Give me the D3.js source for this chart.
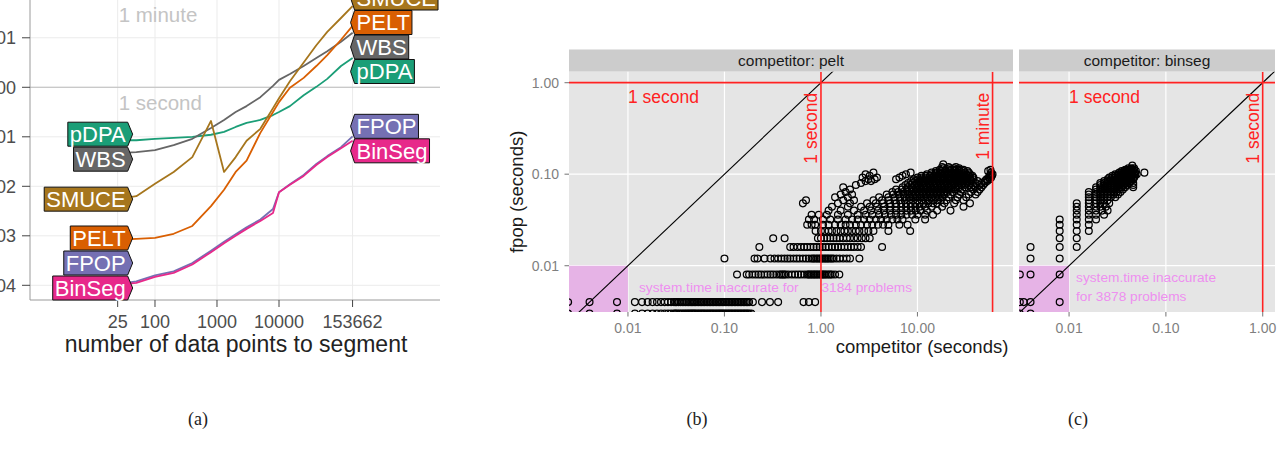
<!DOCTYPE html>
<html><head><meta charset="utf-8">
<script src="https://cdn.jsdelivr.net/npm/d3@7"></script>
<style>
body{margin:0;background:#fff}
svg{display:block}
text{font-family:"Liberation Sans",Arial,Helvetica,sans-serif}
</style>
</head><body>
<script>
// ---------------- DATA: panel (a) ----------------
const sizes = [25, 50, 100, 200, 400, 800, 1300, 2000, 3000, 5000, 8000, 10000, 15000, 25000, 40000, 60000, 100000, 153662];
const algoNames = ["pDPA", "WBS", "SMUCE", "PELT", "FPOP", "BinSeg"];
const algoColors = ["#1b9e77", "#666666", "#a6761d", "#d95f02", "#7570b3", "#e7298a"];
const secPDPA = [0.0851, 0.0851, 0.0912, 0.0955, 0.100, 0.110, 0.126, 0.158, 0.191, 0.219, 0.275, 0.316, 0.417, 0.692, 1.02, 1.48, 2.69, 3.89];
const secWBS = [0.0468, 0.0490, 0.0537, 0.0676, 0.0912, 0.151, 0.219, 0.316, 0.417, 0.631, 1.07, 1.41, 1.86, 2.69, 3.89, 5.37, 8.32, 12.6];
const secSMUCE = [0.0055, 0.00631, 0.0112, 0.0195, 0.0389, 0.209, 0.0195, 0.0389, 0.0832, 0.145, 0.380, 0.603, 1.32, 3.16, 7.08, 13.2, 25.1, 43.7];
const secPELT = [0.000832, 0.000871, 0.000912, 0.00110, 0.00158, 0.00398, 0.00851, 0.0195, 0.0331, 0.120, 0.316, 0.501, 0.977, 1.55, 2.69, 4.47, 9.12, 17.4];
const secFPOP = [0.000105, 0.000120, 0.000158, 0.000191, 0.000282, 0.000501, 0.000759, 0.00107, 0.00148, 0.00214, 0.00347, 0.00759, 0.0110, 0.0170, 0.0282, 0.0407, 0.0617, 0.102];
const secBinSeg = [0.000102, 0.000112, 0.000148, 0.000178, 0.000263, 0.000468, 0.000708, 0.00100, 0.00138, 0.00200, 0.00288, 0.00759, 0.0107, 0.0162, 0.0269, 0.0389, 0.0589, 0.0832];
const yTicksA = [1e-4, 1e-3, 1e-2, 1e-1, 1, 10];
const yTickLabelsA = ["1e-04", "1e-03", "1e-02", "1e-01", "1e+00", "1e+01"];
const xTicksA = [25, 100, 1000, 10000, 153662];
const refSecA = [1, 60];
const refLabelsA = ["1 second", "1 minute"];

// ---------------- DATA: panel (b) fpop vs pelt ----------------
const peltFpop = [0.003, 0.004, 0.008, 0.012, 0.016, 0.020, 0.024, 0.028, 0.032, 0.036, 0.040, 0.044, 0.048, 0.052, 0.056, 0.060, 0.064, 0.068, 0.072, 0.076, 0.080, 0.084, 0.088, 0.092, 0.096, 0.100, 0.104, 0.108, 0.112, 0.116, 0.120, 0.128];
const peltTime = [
 [0.0024, 0.004, 0.0077, 0.0118, 0.014, 0.016, 0.018, 0.02, 0.022, 0.024, 0.026, 0.028, 0.03, 0.031, 0.032, 0.0335, 0.035, 0.0365, 0.038, 0.0395, 0.041, 0.0425, 0.044, 0.0455, 0.047, 0.0485, 0.05, 0.052, 0.054, 0.056, 0.058, 0.06, 0.062, 0.0645, 0.067, 0.0695, 0.072, 0.0745, 0.077, 0.08, 0.083, 0.086, 0.089, 0.092, 0.095, 0.0985, 0.102, 0.106, 0.11, 0.114, 0.118, 0.122, 0.127, 0.131, 0.136, 0.141, 0.146, 0.151, 0.157, 0.162, 0.168, 0.174, 0.18, 0.19],
 [0.0024, 0.004, 0.0077, 0.0118, 0.014, 0.016, 0.018, 0.02, 0.022, 0.024, 0.026, 0.028, 0.03, 0.031, 0.032, 0.0335, 0.035, 0.0365, 0.038, 0.0395, 0.041, 0.0425, 0.044, 0.0455, 0.047, 0.0485, 0.05, 0.052, 0.054, 0.056, 0.058, 0.06, 0.062, 0.0645, 0.067, 0.0695, 0.072, 0.0745, 0.077, 0.08, 0.083, 0.086, 0.089, 0.092, 0.095, 0.0985, 0.102, 0.106, 0.11, 0.114, 0.118, 0.122, 0.127, 0.131, 0.136, 0.141, 0.146, 0.151, 0.157, 0.162, 0.168, 0.174, 0.18, 0.197, 0.245, 0.296, 0.36, 0.66, 0.75, 0.87],
 [0.135, 0.17, 0.18, 0.195, 0.21, 0.225, 0.24, 0.26, 0.28, 0.30, 0.32, 0.345, 0.37, 0.385, 0.40, 0.415, 0.43, 0.46, 0.50, 0.54, 0.58, 0.62, 0.67, 0.72, 0.745, 0.77, 0.8, 0.83, 0.86, 0.89, 0.925, 0.96, 1.0, 1.03, 1.07, 1.1, 1.15, 1.2, 1.25, 1.3, 1.4, 1.55],
 [0.1, 0.205, 0.22, 0.26, 0.3, 0.33, 0.36, 0.39, 0.42, 0.45, 0.48, 0.52, 0.56, 0.6, 0.65, 0.7, 0.75, 0.8, 0.83, 0.86, 0.9, 0.93, 0.97, 1.0, 1.04, 1.08, 1.12, 1.16, 1.2, 1.25, 1.3, 1.35, 1.45, 1.56, 1.7, 1.85, 2.0, 2.5],
 [0.23, 0.48, 0.52, 0.57, 0.62, 0.67, 0.72, 0.78, 0.84, 0.9, 0.97, 1.04, 1.12, 1.2, 1.3, 1.4, 1.5, 1.62, 1.75, 1.9, 2.05, 2.2, 2.4, 2.6, 4.3],
 [0.32, 0.42, 0.93, 1.0, 1.08, 1.16, 1.25, 1.35, 1.45, 1.56, 1.7, 1.85, 2.0, 2.2, 2.4, 2.65, 2.9, 3.2],
 [0.88, 1.0, 1.1, 1.2, 1.3, 1.45, 1.6, 1.75, 1.9, 2.1, 2.3, 2.5, 2.8, 3.1, 3.5, 5.0, 8.4],
 [0.72, 0.8, 0.87, 1.05, 1.2, 1.4, 1.6, 1.8, 2.0, 2.3, 2.6, 3.0, 3.4, 3.9, 4.4, 5.0, 6.5, 7.9],
 [0.75, 0.85, 1.05, 1.25, 1.5, 1.8, 2.1, 2.4, 2.8, 3.2, 3.7, 4.2, 4.8, 5.5, 6.2, 7.0, 9.5, 12],
 [0.8, 0.95, 1.15, 1.5, 1.9, 2.4, 2.9, 3.4, 4.0, 4.6, 5.3, 6.0, 6.8, 7.7, 8.8, 10, 12, 14.5],
 [1.2, 1.6, 2.2, 2.8, 3.3, 3.9, 4.5, 5.2, 6.0, 6.8, 7.7, 8.6, 9.6, 10.8, 12.5, 16, 22],
 [1.3, 1.9, 2.6, 3.2, 3.8, 4.5, 5.2, 6.0, 6.8, 7.6, 8.5, 9.5, 10.5, 12, 14, 18, 30],
 [0.65, 1.5, 2.0, 3.0, 3.7, 4.4, 5.2, 6.0, 6.8, 7.6, 8.5, 9.5, 10.5, 11.5, 13, 14.5, 16, 19, 24, 35],
 [0.7, 1.7, 2.2, 3.5, 4.3, 5.0, 5.8, 6.6, 7.4, 8.2, 9.0, 10, 11, 12, 13.2, 14.5, 16, 17.5, 20, 25, 30],
 [1.4, 1.9, 4.0, 5.0, 5.8, 6.6, 7.4, 8.2, 9.0, 9.8, 10.7, 11.7, 12.8, 14, 15.3, 16.7, 18.2, 21, 26, 32],
 [1.6, 2.1, 4.8, 5.6, 6.4, 7.2, 8.0, 8.8, 9.6, 10.5, 11.5, 12.5, 13.6, 14.8, 16, 17.5, 19, 22, 27, 34, 40],
 [1.8, 5.5, 6.3, 7.1, 7.9, 8.7, 9.5, 10.4, 11.3, 12.3, 13.4, 14.6, 15.9, 17.3, 18.8, 20.5, 23, 28, 36, 42],
 [2.0, 6.0, 6.9, 7.8, 8.7, 9.6, 10.5, 11.5, 12.5, 13.6, 14.8, 16.1, 17.5, 19, 20.7, 22.5, 25, 29, 38, 44],
 [1.7, 7.0, 7.9, 8.8, 9.7, 10.6, 11.6, 12.6, 13.7, 14.9, 16.2, 17.6, 19.1, 20.8, 22.6, 24.6, 27, 31, 36, 40, 46],
 [2.3, 7.5, 8.4, 9.3, 10.2, 11.2, 12.2, 13.3, 14.5, 15.8, 17.2, 18.7, 20.3, 22.1, 24, 26, 28.5, 31, 34, 38, 44, 48],
 [2.6, 8.0, 8.9, 9.8, 10.8, 11.8, 12.9, 14.1, 15.4, 16.8, 18.3, 19.9, 21.6, 23.5, 25.5, 27.7, 30, 32.5, 35, 40, 46, 50],
 [2.9, 3.3, 8.6, 9.5, 10.5, 11.5, 12.6, 13.8, 15.1, 16.5, 18, 19.6, 21.3, 23.2, 25.2, 27.4, 29.8, 32.5, 36, 42, 50, 53],
 [3.1, 3.6, 6.0, 9.2, 10.2, 11.2, 12.3, 13.5, 14.8, 16.2, 17.7, 19.3, 21, 22.9, 24.9, 27.1, 29.5, 32, 35, 38, 52, 56],
 [2.7, 3.8, 6.5, 10, 11, 12.1, 13.3, 14.6, 16, 17.5, 19.1, 20.8, 22.7, 24.7, 26.9, 29.3, 32, 35, 38, 55, 58],
 [3.2, 7.0, 11, 12.2, 13.5, 14.9, 16.4, 18, 19.8, 21.7, 23.8, 26, 28.4, 31, 34, 37, 56, 59],
 [2.9, 7.6, 12.5, 14, 15.5, 17, 18.7, 20.5, 22.5, 24.7, 27, 29.5, 32, 35, 57, 60],
 [3.5, 8.5, 14, 15.7, 17.4, 19.2, 21.2, 23.4, 25.8, 28.4, 31, 34, 58],
 [15.5, 17.5, 19.6, 21.9, 24.4, 27.1, 30, 33, 54],
 [17, 19.5, 22, 24.5, 27, 30, 57],
 [18.5, 21.5, 24, 27],
 [18, 21, 25],
 [18.5]
];

// ---------------- DATA: panel (c) fpop vs binseg ----------------
const binsegFpop = [0.003, 0.004, 0.008, 0.012, 0.016, 0.020, 0.024, 0.028, 0.032, 0.036, 0.040, 0.044, 0.048, 0.052, 0.056, 0.060, 0.064, 0.068, 0.072, 0.076, 0.080, 0.084, 0.088, 0.092, 0.096, 0.100, 0.104, 0.108, 0.112, 0.116, 0.124];
const binsegTime = [
 [0.0031, 0.004],
 [0.0031, 0.0034, 0.004, 0.008],
 [0.0031, 0.004, 0.008],
 [0.004, 0.008],
 [0.004, 0.008, 0.012],
 [0.008, 0.012],
 [0.008, 0.012, 0.016],
 [0.008, 0.012, 0.016],
 [0.008, 0.012, 0.016, 0.019],
 [0.012, 0.016, 0.019, 0.023],
 [0.012, 0.016, 0.019, 0.022, 0.025],
 [0.012, 0.016, 0.019, 0.021, 0.024],
 [0.012, 0.016, 0.019, 0.021, 0.023, 0.026],
 [0.016, 0.019, 0.021, 0.023, 0.025],
 [0.016, 0.019, 0.021, 0.023, 0.025, 0.027, 0.030],
 [0.016, 0.019, 0.021, 0.023, 0.025, 0.027, 0.029, 0.032],
 [0.016, 0.019, 0.021, 0.023, 0.025, 0.027, 0.029, 0.031, 0.034],
 [0.019, 0.021, 0.023, 0.025, 0.027, 0.029, 0.031, 0.033, 0.036],
 [0.019, 0.021, 0.023, 0.025, 0.027, 0.029, 0.031, 0.033, 0.035, 0.038, 0.046],
 [0.021, 0.023, 0.025, 0.027, 0.029, 0.031, 0.033, 0.035, 0.037, 0.040, 0.046],
 [0.021, 0.023, 0.025, 0.027, 0.029, 0.031, 0.033, 0.035, 0.037, 0.039, 0.042, 0.046],
 [0.023, 0.025, 0.027, 0.029, 0.031, 0.033, 0.035, 0.037, 0.039, 0.041, 0.044],
 [0.025, 0.027, 0.029, 0.031, 0.033, 0.035, 0.037, 0.039, 0.041, 0.043, 0.046],
 [0.026, 0.028, 0.030, 0.032, 0.034, 0.036, 0.038, 0.040, 0.042, 0.044, 0.047],
 [0.028, 0.030, 0.032, 0.034, 0.036, 0.038, 0.040, 0.042, 0.045, 0.048],
 [0.030, 0.032, 0.034, 0.036, 0.038, 0.040, 0.042, 0.044, 0.047, 0.050],
 [0.033, 0.035, 0.037, 0.039, 0.041, 0.043, 0.045, 0.048, 0.060],
 [0.035, 0.037, 0.039, 0.041, 0.043, 0.046, 0.049],
 [0.038, 0.040, 0.042, 0.044, 0.047],
 [0.041, 0.044, 0.047],
 [0.045]
];
const yTicksBC = [0.01, 0.1, 1];
const yTickLabelsBC = ["0.01", "0.10", "1.00"];
const xTicksB = [0.01, 0.1, 1, 10];
const xTickLabelsB = ["0.01", "0.10", "1.00", "10.00"];
const xTicksC = [0.01, 0.1, 1];
const xTickLabelsC = ["0.01", "0.10", "1.00"];
const captions = ["(a)", "(b)", "(c)"];

// ---------------- DRAWING ----------------
const svg = d3.select("body").append("svg").attr("width", 1278).attr("height", 454);
const defs = svg.append("defs");
function clipRect(id, x, y, w, h) {
  defs.append("clipPath").attr("id", id).append("rect")
    .attr("x", x).attr("y", y).attr("width", w).attr("height", h);
}

// ===== Panel (a) =====
const aL = 30, aR = 440, aT = 0, aB = 300;
const xA = d3.scaleLog().domain([0.964, 3.95e6]).range([aL, aR]);
const yA = d3.scaleLog().domain([5.05e-5, 58]).range([aB, aT]);
clipRect("clipA", aL, aT, aR - aL, aB - aT);
const gA = svg.append("g");

gA.selectAll("line.gy").data(yTicksA).join("line").attr("class", "gy")
  .attr("x1", aL).attr("x2", aR).attr("y1", d => yA(d)).attr("y2", d => yA(d))
  .attr("stroke", "#ebebeb").attr("stroke-width", 1);
gA.selectAll("line.gx").data(xTicksA).join("line").attr("class", "gx")
  .attr("x1", d => xA(d)).attr("x2", d => xA(d)).attr("y1", aT).attr("y2", aB)
  .attr("stroke", "#ebebeb").attr("stroke-width", 1);

gA.selectAll("line.ref").data(refSecA).join("line").attr("class", "ref")
  .attr("x1", aL).attr("x2", aR).attr("y1", d => yA(d)).attr("y2", d => yA(d))
  .attr("stroke", "#bdbdbd").attr("stroke-width", 1.1).attr("clip-path", "url(#clipA)");
gA.selectAll("text.ref").data(refSecA).join("text").attr("class", "ref")
  .attr("x", xA(sizes[0]) + 1).attr("y", d => yA(d) + 22.5)
  .attr("fill", "#c4c4c4").style("font-size", "20.5px")
  .text((d, i) => refLabelsA[i]);

const seriesA = [secPDPA, secWBS, secSMUCE, secPELT, secFPOP, secBinSeg].map((v, i) => ({
  name: algoNames[i], color: algoColors[i], values: v
}));
const lineA = d3.line().x((d, i) => xA(sizes[i])).y(d => yA(d));
gA.selectAll("path.series").data(seriesA).join("path").attr("class", "series")
  .attr("d", d => lineA(d.values)).attr("fill", "none")
  .attr("stroke", d => d.color).attr("stroke-width", 1.8).attr("stroke-linejoin", "round")
  .attr("clip-path", "url(#clipA)");

gA.append("line").attr("x1", aL).attr("x2", aL).attr("y1", aT).attr("y2", aB).attr("stroke", "#9a9a9a");
gA.append("line").attr("x1", aL).attr("x2", aR).attr("y1", aB).attr("y2", aB).attr("stroke", "#9a9a9a");
gA.selectAll("line.ty").data(yTicksA).join("line").attr("class", "ty")
  .attr("x1", aL - 8).attr("x2", aL).attr("y1", d => yA(d)).attr("y2", d => yA(d))
  .attr("stroke", "#444").attr("stroke-width", 1);
gA.selectAll("text.ty").data(yTicksA).join("text").attr("class", "ty")
  .attr("x", aL - 14).attr("y", d => yA(d) + 6.5).attr("text-anchor", "end")
  .style("font-size", "18px").attr("fill", "#4d4d4d").text((d, i) => yTickLabelsA[i]);
gA.selectAll("line.tx").data(xTicksA).join("line").attr("class", "tx")
  .attr("x1", d => xA(d)).attr("x2", d => xA(d)).attr("y1", aB).attr("y2", aB + 7)
  .attr("stroke", "#444");
gA.selectAll("text.tx").data(xTicksA).join("text").attr("class", "tx")
  .attr("x", d => xA(d)).attr("y", aB + 28).attr("text-anchor", "middle")
  .style("font-size", "18px").attr("fill", "#4d4d4d").text(d => String(d));
gA.append("text").attr("x", 236).attr("y", 352).attr("text-anchor", "middle")
  .style("font-size", "23px").attr("fill", "#222").text("number of data points to segment");

function spread(items, h, lo, hi) {
  items.sort((a, b) => a.y - b.y);
  for (let it = 0; it < 300; it++) {
    for (let i = 0; i < items.length - 1; i++) {
      const d = items[i + 1].y - items[i].y;
      if (d < h) { const s = (h - d) / 2; items[i].y -= s; items[i + 1].y += s; }
    }
    items.forEach(c => { c.y = Math.max(lo, Math.min(hi, c.y)); });
  }
  return items;
}
const boxH = 24;
const labG = svg.append("g").style("font-size", "22px");
function measure(t) {
  const n = labG.append("text").text(t); const w = n.node().getComputedTextLength(); n.remove(); return w;
}
const leftItems = spread(seriesA.map(s => ({ s, y: yA(s.values[0]) })), 25, boxH / 2, aB - boxH / 2);
const rightItems = spread(seriesA.map(s => ({ s, y: yA(s.values[s.values.length - 1]) })), 24.5, -2, aB - boxH / 2);
function drawLabel(it, side) {
  const w = measure(it.s.name) + 4;
  const cy = it.y, y0 = cy - boxH / 2, y1 = cy + boxH / 2;
  let pts, cx;
  if (side === "left") {
    const tip = xA(sizes[0]) + 15, xr = tip - 5, xl = xr - w;
    pts = [[xl, y0], [xr, y0], [tip, cy], [xr, y1], [xl, y1]]; cx = (xl + xr) / 2;
  } else {
    const tip = xA(sizes[sizes.length - 1]) - 2, xl = tip + 4, xr = xl + w;
    pts = [[tip, cy], [xl, y0], [xr, y0], [xr, y1], [xl, y1]]; cx = (xl + xr) / 2;
  }
  labG.append("path").attr("d", "M" + pts.map(p => p.join(",")).join("L") + "Z")
    .attr("fill", it.s.color).attr("stroke", "#111").attr("stroke-width", 1);
  labG.append("text").attr("x", cx).attr("y", cy).attr("dy", "0.36em")
    .attr("text-anchor", "middle").attr("fill", "#fff").text(it.s.name);
}
leftItems.forEach(it => drawLabel(it, "left"));
rightItems.forEach(it => drawLabel(it, "right"));

// ===== Panels (b) and (c) =====
const pT = 71.7, pB = 312, stripT = 49.5;
const yBC = d3.scaleLog().domain([0.00312, 1.318]).range([pB, pT]);
const xB = d3.scaleLog().domain([0.00245, 97.7]).range([569, 1013]);
const xC = d3.scaleLog().domain([0.00304, 1.34]).range([1019, 1275]);
const RED = "#f22";
const PINKBG = "#e6b3e6", PINKTXT = "#ee8ff0";

const panels = [
  { id: "clipB", x: xB, x0: 569, x1: 1013, strip: "competitor: pelt", fy: peltFpop, ct: peltTime,
    xt: xTicksB, xl: xTickLabelsB, vl: [1, 60], vlt: ["1 second", "1 minute"],
    note: ["system.time inaccurate for      3184 problems"], noteDx: 11, noteY: [26], yAxis: true },
  { id: "clipC", x: xC, x0: 1019, x1: 1275, strip: "competitor: binseg", fy: binsegFpop, ct: binsegTime,
    xt: xTicksC, xl: xTickLabelsC, vl: [1], vlt: ["1 second"],
    note: ["system.time inaccurate", "for 3878 problems"], noteDx: 7, noteY: [16, 35.5], yAxis: false }
];

panels.forEach(p => {
  const g = svg.append("g");
  const w = p.x1 - p.x0;
  clipRect(p.id, p.x0, pT, w, pB - pT);
  const clip = "url(#" + p.id + ")";
  g.append("rect").attr("x", p.x0).attr("y", stripT).attr("width", w).attr("height", pT - stripT).attr("fill", "#cccccc");
  g.append("text").attr("x", (p.x0 + p.x1) / 2).attr("y", pT - 6).attr("text-anchor", "middle")
    .style("font-size", "15.5px").attr("fill", "#1a1a1a").text(p.strip);
  g.append("rect").attr("x", p.x0).attr("y", pT).attr("width", w).attr("height", pB - pT).attr("fill", "#e5e5e5");
  g.selectAll("line.gx").data(p.xt).join("line").attr("class", "gx")
    .attr("x1", d => p.x(d)).attr("x2", d => p.x(d)).attr("y1", pT).attr("y2", pB)
    .attr("stroke", "#fff").attr("stroke-width", 1.2);
  g.selectAll("line.gy").data(yTicksBC).join("line").attr("class", "gy")
    .attr("x1", p.x0).attr("x2", p.x1).attr("y1", d => yBC(d)).attr("y2", d => yBC(d))
    .attr("stroke", "#fff").attr("stroke-width", 1.2);
  const dom = p.x.domain();
  g.append("rect").attr("x", p.x0).attr("y", yBC(0.01))
    .attr("width", p.x(0.01) - p.x0).attr("height", pB - yBC(0.01)).attr("fill", PINKBG);
  const pts = p.fy.flatMap((fy, i) => p.ct[i].map(c => [c, fy]));
  g.append("g").attr("clip-path", clip).selectAll("circle").data(pts).join("circle")
    .attr("cx", d => p.x(d[0])).attr("cy", d => yBC(d[1])).attr("r", 3.4)
    .attr("fill", "none").attr("stroke", "#000").attr("stroke-width", 1.25);
  g.selectAll("text.note").data(p.note).join("text").attr("class", "note")
    .attr("x", p.x(0.01) + p.noteDx).attr("y", (d, i) => yBC(0.01) + p.noteY[i])
    .style("font-size", "13.7px").style("white-space", "pre").attr("fill", PINKTXT).text(d => d);
  g.append("line").attr("clip-path", clip)
    .attr("x1", p.x(dom[0])).attr("y1", yBC(dom[0])).attr("x2", p.x(dom[1])).attr("y2", yBC(dom[1]))
    .attr("stroke", "#000").attr("stroke-width", 1.1);
  g.append("line").attr("x1", p.x0).attr("x2", p.x1).attr("y1", yBC(1)).attr("y2", yBC(1))
    .attr("stroke", RED).attr("stroke-width", 1.6);
  g.selectAll("line.vl").data(p.vl).join("line").attr("class", "vl").attr("clip-path", clip)
    .attr("x1", d => p.x(d)).attr("x2", d => p.x(d)).attr("y1", pT).attr("y2", pB)
    .attr("stroke", RED).attr("stroke-width", 1.6);
  g.append("text").attr("x", p.x(0.01)).attr("y", yBC(1) + 20)
    .style("font-size", "17.5px").attr("fill", RED).text("1 second");
  g.selectAll("text.vl").data(p.vl).join("text").attr("class", "vl")
    .attr("transform", d => `translate(${p.x(d) - 4},${yBC(1) + 10}) rotate(-90)`)
    .attr("text-anchor", "end").style("font-size", "17.5px").attr("fill", RED)
    .text((d, i) => p.vlt[i]);
  g.selectAll("line.tx").data(p.xt).join("line").attr("class", "tx")
    .attr("x1", d => p.x(d)).attr("x2", d => p.x(d)).attr("y1", pB).attr("y2", pB + 4.5)
    .attr("stroke", "#7f7f7f").attr("stroke-width", 1.1);
  g.selectAll("text.tx").data(p.xt).join("text").attr("class", "tx")
    .attr("x", d => p.x(d)).attr("y", pB + 21).attr("text-anchor", "middle")
    .style("font-size", "14px").attr("fill", "#7f7f7f").text((d, i) => p.xl[i]);
  if (p.yAxis) {
    g.selectAll("line.ty").data(yTicksBC).join("line").attr("class", "ty")
      .attr("x1", p.x0 - 4.5).attr("x2", p.x0).attr("y1", d => yBC(d)).attr("y2", d => yBC(d))
      .attr("stroke", "#7f7f7f").attr("stroke-width", 1.1);
    g.selectAll("text.ty").data(yTicksBC).join("text").attr("class", "ty")
      .attr("x", p.x0 - 10).attr("y", d => yBC(d) + 5).attr("text-anchor", "end")
      .style("font-size", "14px").attr("fill", "#7f7f7f").text((d, i) => yTickLabelsBC[i]);
  }
});
svg.append("text").attr("transform", `translate(523,${(pT + pB) / 2}) rotate(-90)`)
  .attr("text-anchor", "middle").style("font-size", "18.5px").attr("fill", "#1a1a1a").text("fpop (seconds)");
svg.append("text").attr("x", 922).attr("y", 353).attr("text-anchor", "middle")
  .style("font-size", "18.5px").attr("fill", "#1a1a1a").text("competitor (seconds)");

const capX = [198, 697, 1078];
svg.selectAll("text.cap").data(captions).join("text").attr("class", "cap")
  .attr("x", (d, i) => capX[i]).attr("y", 425).attr("text-anchor", "middle")
  .style("font-family", "'Liberation Serif','DejaVu Serif',serif").style("font-size", "18px")
  .attr("fill", "#222").text(d => d);
</script>
</body></html>
